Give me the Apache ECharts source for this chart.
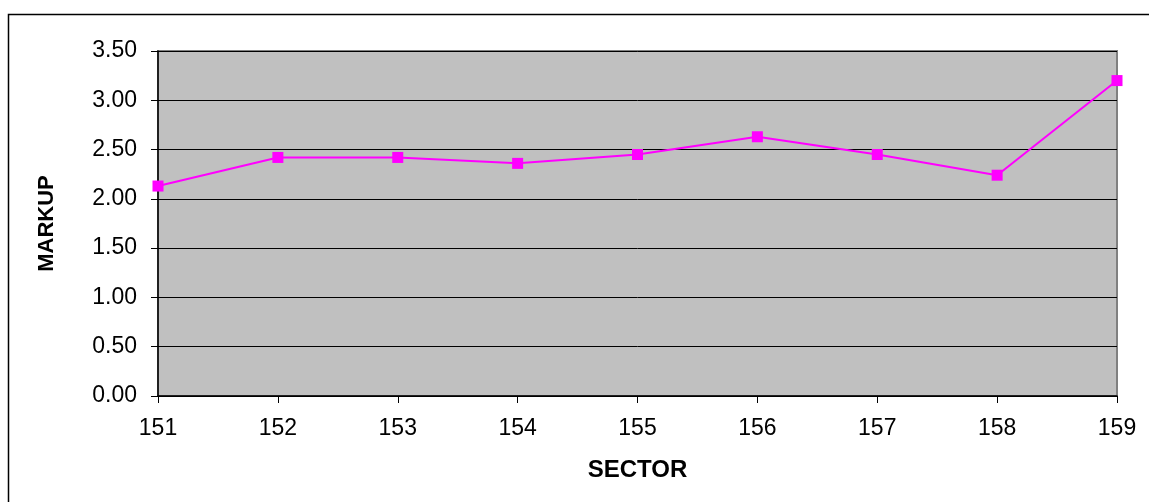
<!DOCTYPE html>
<html>
<head>
<meta charset="utf-8">
<script src="https://cdn.jsdelivr.net/npm/echarts@6/dist/echarts.min.js"></script>
<style>
html,body{margin:0;padding:0;background:#fff;}
#c{width:1149px;height:502px;}
</style>
</head>
<body>
<div id="c"></div>
<script>
const sectors = ['151','152','153','154','155','156','157','158','159'];
const markup = [2.13, 2.42, 2.42, 2.36, 2.45, 2.63, 2.45, 2.24, 3.20];
const yTicks = {min: 0, max: 3.5, interval: 0.5};

const chart = echarts.init(document.getElementById('c'), null, {renderer: 'canvas'});
chart.setOption({
  animation: false,
  backgroundColor: '#ffffff',
  graphic: [
    {type: 'rect', shape: {x: 8.5, y: 14.5, width: 1160, height: 520}, style: {fill: 'none', stroke: '#000', lineWidth: 1.5}, z: 100}
  ],
  grid: {left: 158, top: 51, right: 32, bottom: 106, show: true, backgroundColor: '#C0C0C0', borderColor: '#808080', borderWidth: 2},
  xAxis: {
    type: 'category',
    data: sectors,
    boundaryGap: false,
    name: 'SECTOR',
    nameLocation: 'middle',
    nameGap: 62,
    nameTextStyle: {fontFamily: 'Liberation Sans', fontWeight: 'bold', fontSize: 24, color: '#000'},
    axisLine: {show: true, lineStyle: {color: '#000', width: 1.5}},
    axisTick: {show: true, alignWithLabel: true, length: 7, lineStyle: {color: '#000'}},
    axisLabel: {fontFamily: 'Liberation Sans', fontSize: 23, color: '#000', margin: 21},
    splitLine: {show: false}
  },
  yAxis: {
    type: 'value',
    min: yTicks.min, max: yTicks.max, interval: yTicks.interval,
    name: 'MARKUP',
    nameLocation: 'middle',
    nameGap: 100,
    nameRotate: 90,
    nameTextStyle: {fontFamily: 'Liberation Sans', fontWeight: 'bold', fontSize: 22, color: '#000'},
    axisLine: {show: true, lineStyle: {color: '#000', width: 1.5}},
    axisTick: {show: true, length: 7, lineStyle: {color: '#000'}},
    axisLabel: {fontFamily: 'Liberation Sans', fontSize: 23, color: '#000', margin: 21, formatter: v => v.toFixed(2)},
    splitLine: {show: true, lineStyle: {color: '#000', width: 1}}
  },
  series: [{
    type: 'line',
    data: markup,
    symbol: 'rect',
    symbolSize: 11,
    lineStyle: {color: '#FF00FF', width: 2},
    itemStyle: {color: '#FF00FF'}
  }]
});
</script>
</body>
</html>
